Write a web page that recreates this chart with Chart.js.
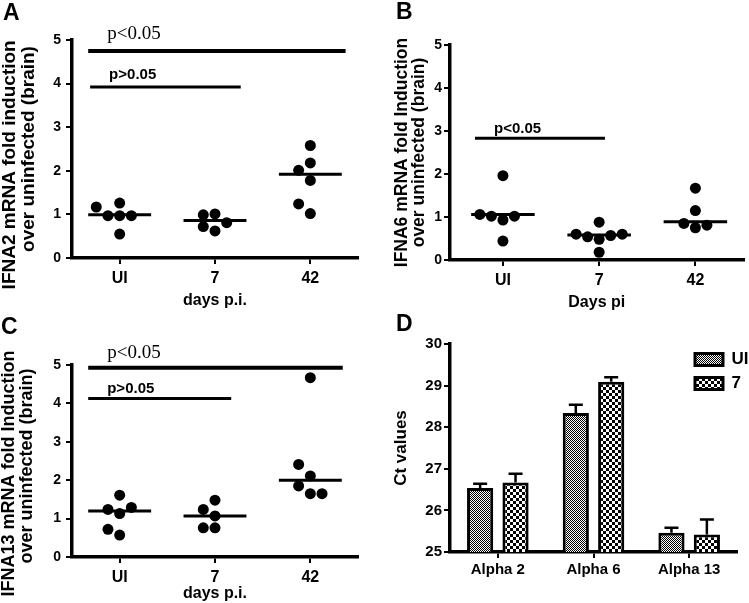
<!DOCTYPE html>
<html>
<head>
<meta charset="utf-8">
<script src="https://cdn.jsdelivr.net/npm/chart.js@4.4.1/dist/chart.umd.min.js"></script>
<style>
  html, body { margin: 0; padding: 0; background: #fff; }
  #wrap { position: relative; width: 749px; height: 603px; overflow: hidden; }
  #wrap canvas { position: absolute; left: 0; top: 0; }
</style>
</head>
<body>
<div id="wrap">
  <canvas id="pA" width="749" height="603"></canvas>
  <canvas id="pB" width="749" height="603"></canvas>
  <canvas id="pC" width="749" height="603"></canvas>
  <canvas id="pD" width="749" height="603"></canvas>
</div>
<script>
// groups on the x axis of the dot plots
var groups = ['UI', '7', '42'];

// IFNA2 fold induction (panel A)
var ifna2UI = [1.26, 0.97, 0.97, 0.97, 1.17, 0.55];
var ifna2D7 = [1.01, 0.99, 0.81, 0.62, 0.72];
var ifna2D42 = [2.58, 2.18, 1.78, 2.01, 1.02, 1.24];
var ifna2Line = [0.99, 0.86, 1.92];

// IFNA6 fold induction (panel B)
var ifna6UI = [1.96, 0.93, 1.02, 1.02, 1.06, 0.44];
var ifna6D7 = [0.88, 0.48, 0.54, 0.57, 0.60, 0.60, 0.18];
var ifna6D42 = [1.67, 1.15, 0.75, 0.85, 0.81];
var ifna6Line = [1.06, 0.58, 0.89];

// IFNA13 fold induction (panel C)
var ifna13UI = [1.61, 1.13, 1.24, 1.29, 0.57, 0.72];
var ifna13D7 = [1.48, 1.07, 1.24, 0.76, 0.76];
var ifna13D42 = [4.67, 2.11, 2.41, 1.65, 1.85, 1.65];
var ifna13Line = [1.20, 1.07, 2.00];

// Ct values (panel D)
var genes = ['Alpha 2', 'Alpha 6', 'Alpha 13'];
var ctUI = [26.54, 28.34, 25.46];
var ctUIerr = [0.10, 0.20, 0.12];
var ct7 = [26.67, 29.09, 25.42];
var ct7err = [0.21, 0.11, 0.36];

var SPREAD = 11.7; // px between dots side by side

Chart.defaults.font.family = '"Liberation Sans", Arial, sans-serif';
Chart.defaults.font.weight = 'bold';
Chart.defaults.color = '#000';
Chart.defaults.animation = false;
Chart.defaults.plugins.legend.display = false;
Chart.defaults.plugins.tooltip.enabled = false;

// simple beeswarm: columns 0, -1, 1, -2, 2 ... first one that does not overlap
function swarm(vals, pxY) {
  var placed = [];
  return vals.map(function (v) {
    var order = [0, -1, 1, -2, 2, -3, 3];
    for (var i = 0; i < order.length; i++) {
      var k = order[i];
      var ok = placed.every(function (p) {
        return Math.hypot((p.k - k) * SPREAD, (p.v - v) * pxY) >= SPREAD;
      });
      if (ok) { placed.push({k: k, v: v}); return k; }
    }
    return 0;
  });
}

// trailing blanks push a centred rotated title line downwards
function pad(s, n) {
  return s + new Array(n + 1).join(' ');
}

Chart.register({
  id: 'sig',
  afterDatasetsDraw: function (chart, args, o) {
    if (!o.bars) return;
    var ctx = chart.ctx, x = chart.scales.x, y = chart.scales.y;
    o.bars.forEach(function (b) {
      var py = y.getPixelForValue(b.y);
      var x0 = x.getPixelForValue(b.from);
      ctx.save();
      ctx.strokeStyle = '#000';
      ctx.lineWidth = b.w;
      ctx.beginPath();
      ctx.moveTo(x0, py);
      ctx.lineTo(x.getPixelForValue(b.to), py);
      ctx.stroke();
      ctx.fillStyle = '#000';
      ctx.font = b.serif ? '19px "Liberation Serif", serif' : 'bold 15px "Liberation Sans", Arial, sans-serif';
      ctx.textBaseline = 'alphabetic';
      ctx.fillText(b.text, x0 + 19, py - b.gap);
      ctx.restore();
    });
  }
});

Chart.register({
  id: 'letter',
  afterDraw: function (chart, args, o) {
    if (!o.text) return;
    var ctx = chart.ctx;
    ctx.save();
    ctx.fillStyle = '#000';
    ctx.font = 'bold 23px "Liberation Sans", Arial, sans-serif';
    ctx.fillText(o.text, o.x, o.y);
    ctx.restore();
  }
});

Chart.register({
  id: 'errbars',
  afterDatasetsDraw: function (chart) {
    var ctx = chart.ctx, y = chart.scales.y;
    chart.data.datasets.forEach(function (ds, i) {
      if (!ds.errors) return;
      chart.getDatasetMeta(i).data.forEach(function (bar, j) {
        var top = y.getPixelForValue(ds.data[j] + ds.errors[j]);
        ctx.save();
        ctx.strokeStyle = '#000';
        ctx.lineWidth = 2.5;
        ctx.beginPath();
        ctx.moveTo(bar.x, bar.y);
        ctx.lineTo(bar.x, top);
        ctx.moveTo(bar.x - 7, top);
        ctx.lineTo(bar.x + 7, top);
        ctx.stroke();
        ctx.restore();
      });
    });
  }
});

// legend sits inside the plot, top right
Chart.register({
  id: 'legendRight',
  afterLayout: function (chart, args, o) {
    if (!o.shift) return;
    var lg = chart.legend, area = chart.chartArea;
    var w = lg.width, h = lg.height;
    lg.left = area.right - o.shift;
    lg.right = lg.left + w;
    lg.top = area.top;
    lg.bottom = area.top + h;
  }
});

function axisGrid() {
  return {drawOnChartArea: false, drawTicks: true, tickLength: 6, color: '#000', lineWidth: 2};
}
function axisBorder() {
  return {display: true, color: '#000', width: 3.5};
}

function dotPanel(id, sets, lines, p) {
  var datasets = [];
  sets.forEach(function (vals, g) {
    var cols = swarm(vals, p.pxY);
    datasets.push({
      data: vals.map(function (v, i) { return {x: g + 1 + cols[i] * SPREAD / p.pxX, y: v}; }),
      pointRadius: 5.5,
      pointBackgroundColor: '#000',
      pointBorderWidth: 0,
      clip: false
    });
    datasets.push({
      data: [{x: g + 1 - 0.33, y: lines[g]}, {x: g + 1 + 0.33, y: lines[g]}],
      showLine: true,
      borderColor: '#000',
      borderWidth: 3,
      pointRadius: 0
    });
  });

  new Chart(document.getElementById(id), {
    type: 'scatter',
    data: {datasets: datasets},
    options: {
      responsive: false,
      devicePixelRatio: 1,
      layout: {padding: p.pad},
      plugins: {sig: {bars: p.sig}, letter: p.letter},
      scales: {
        x: {
          type: 'linear',
          min: p.xMin,
          max: 3.5,
          afterBuildTicks: function (s) { s.ticks = [1, 2, 3].map(function (v) { return {value: v}; }); },
          afterFit: function (s) { s.height = p.xH; },
          ticks: {
            autoSkip: false, maxRotation: 0, padding: 5,
            font: {size: 16},
            callback: function (v) { return groups[v - 1]; }
          },
          title: {display: true, text: p.xTitle, font: {size: 16}, padding: 0},
          grid: axisGrid(),
          border: axisBorder()
        },
        y: {
          min: 0,
          max: 5,
          afterFit: function (s) { s.width = p.yW; },
          ticks: {stepSize: 1, padding: p.tickPad, font: {size: 14}},
          title: {display: true, text: p.yTitle, font: {size: p.yTitleSize, lineHeight: 1}, padding: 0},
          grid: axisGrid(),
          border: axisBorder()
        }
      }
    }
  });
}

dotPanel('pA', [ifna2UI, ifna2D7, ifna2D42], ifna2Line, {
  pad: {left: 0, top: 40, right: 391, bottom: 293},
  yW: 72, xH: 52, xMin: 0.5, pxX: 95.3, pxY: 43.6, tickPad: 5,
  xTitle: 'days p.i.',
  yTitleSize: 19,
  yTitle: [pad('IFNA2 mRNA fold induction', 6), 'over uninfected (brain)'],
  letter: {text: 'A', x: 3, y: 20},
  sig: [
    {from: 0.67, to: 3.37, y: 4.75, text: 'p<0.05', serif: true, w: 4, gap: 12},
    {from: 0.69, to: 2.27, y: 3.92, text: 'p>0.05', w: 3, gap: 8}
  ]
});

dotPanel('pB', [ifna6UI, ifna6D7, ifna6D42], ifna6Line, {
  pad: {left: 393, top: 45, right: 1, bottom: 291},
  yW: 57, xH: 52, xMin: 0.45, pxX: 97.7, pxY: 43, tickPad: 2,
  xTitle: 'Days pi',
  yTitleSize: 17.5,
  yTitle: ['IFNA6 mRNA fold Induction', 'over uninfected (brain)'],
  letter: {text: 'B', x: 396, y: 19},
  sig: [
    {from: 0.71, to: 2.06, y: 2.83, text: 'p<0.05', w: 3, gap: 5}
  ]
});

dotPanel('pC', [ifna13UI, ifna13D7, ifna13D42], ifna13Line, {
  pad: {left: 0, top: 365, right: 391, bottom: 0},
  yW: 72, xH: 46, xMin: 0.5, pxX: 95.3, pxY: 38.4, tickPad: 5,
  xTitle: 'days p.i.',
  yTitleSize: 18,
  yTitle: [pad('IFNA13 mRNA fold Induction', 5), pad('over uninfected (brain)', 2)],
  letter: {text: 'C', x: 1, y: 334},
  sig: [
    {from: 0.67, to: 3.34, y: 4.93, text: 'p<0.05', serif: true, w: 4, gap: 10},
    {from: 0.67, to: 2.17, y: 4.13, text: 'p>0.05', w: 3, gap: 5}
  ]
});

function checker(cell) {
  var c = document.createElement('canvas');
  c.width = c.height = cell * 2;
  var g = c.getContext('2d');
  g.fillStyle = '#fff';
  g.fillRect(0, 0, cell * 2, cell * 2);
  g.fillStyle = '#000';
  g.fillRect(0, 0, cell, cell);
  g.fillRect(cell, cell, cell, cell);
  return g.createPattern(c, 'repeat');
}

new Chart(document.getElementById('pD'), {
  type: 'bar',
  data: {
    labels: genes,
    datasets: [
      {label: 'UI', data: ctUI, errors: ctUIerr, backgroundColor: checker(1), borderColor: '#000', borderWidth: 3},
      {label: '7', data: ct7, errors: ct7err, backgroundColor: checker(3), borderColor: '#000', borderWidth: 3}
    ]
  },
  options: {
    responsive: false,
    devicePixelRatio: 1,
    layout: {padding: {left: 392, top: 344, right: 12, bottom: 21}},
    datasets: {bar: {categoryPercentage: 0.74, barPercentage: 0.74}},
    plugins: {
      legend: {
        display: true,
        position: 'chartArea',
        align: 'start',
        labels: {boxWidth: 28, boxHeight: 12, padding: 7, color: '#000', font: {size: 17}}
      },
      legendRight: {shift: 49},
      letter: {text: 'D', x: 396, y: 331}
    },
    scales: {
      x: {
        afterFit: function (s) { s.height = 30; },
        ticks: {font: {size: 15}, padding: 3},
        grid: {offset: false, drawOnChartArea: false, drawTicks: true, tickLength: 6, color: '#000', lineWidth: 2},
        border: axisBorder()
      },
      y: {
        min: 25,
        max: 30,
        beginAtZero: false,
        afterFit: function (s) { s.width = 58; },
        ticks: {stepSize: 1, padding: 2, font: {size: 15}},
        title: {display: true, text: 'Ct values', font: {size: 17, lineHeight: 1.1}, padding: 0},
        grid: axisGrid(),
        border: axisBorder()
      }
    }
  }
});
</script>
</body>
</html>
